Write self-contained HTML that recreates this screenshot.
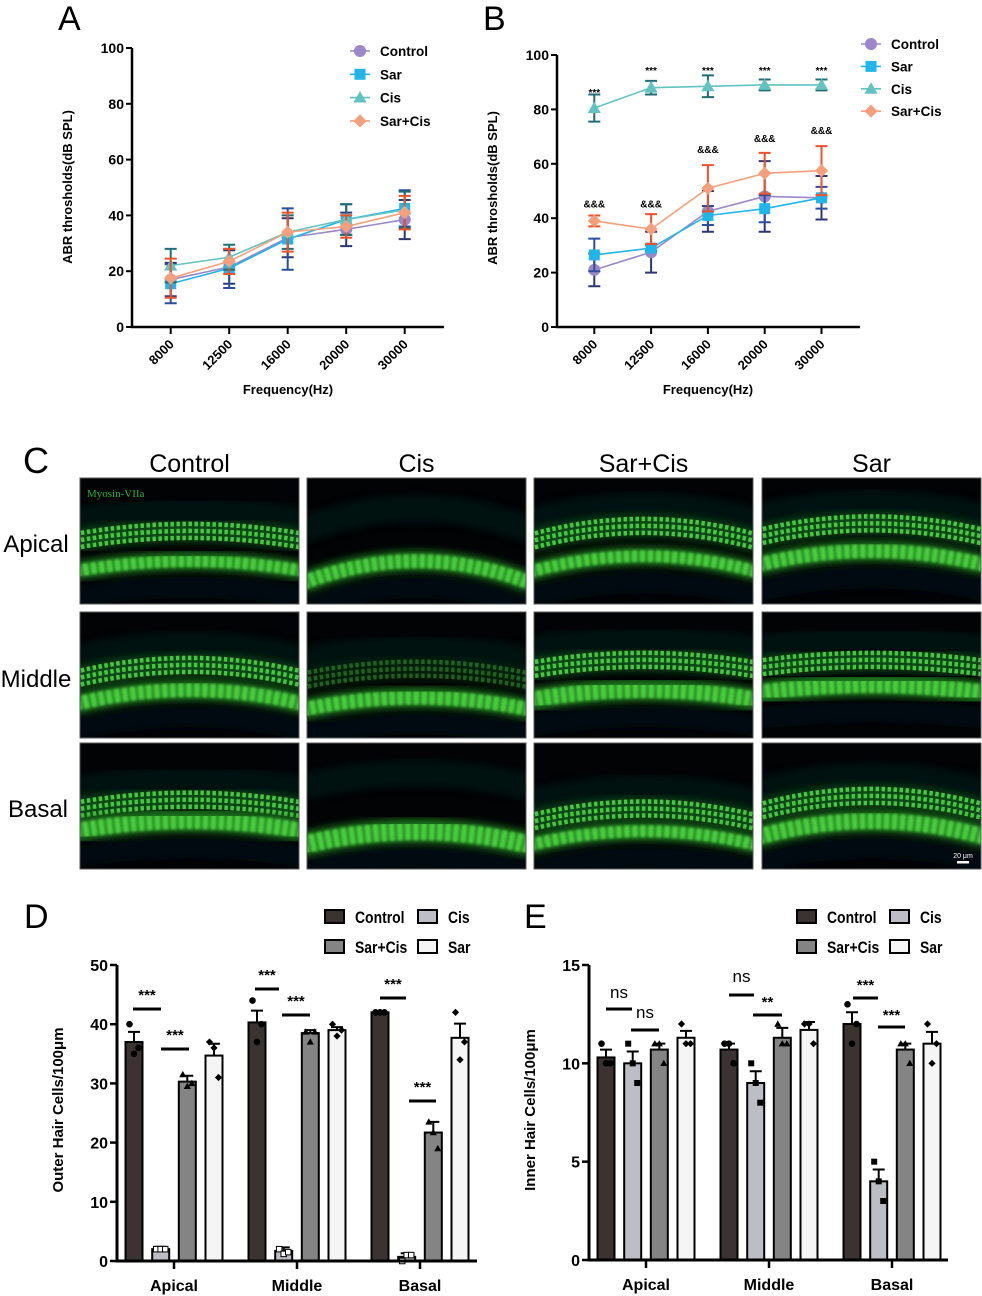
<!DOCTYPE html>
<html><head><meta charset="utf-8">
<style>
html,body{margin:0;padding:0;background:#fff;}
svg{display:block;font-family:"Liberation Sans",Arial,sans-serif;}
</style></head>
<body>
<svg id="fig" width="982" height="1296" viewBox="0 0 982 1296" xmlns="http://www.w3.org/2000/svg">
<defs>
  <filter id="glow" x="-5%" y="-50%" width="110%" height="200%"><feGaussianBlur stdDeviation="1.2"/></filter>
  <filter id="soft" x="-5%" y="-100%" width="110%" height="300%"><feGaussianBlur stdDeviation="4"/></filter>
</defs>
<text x="58" y="30" font-size="34">A</text>
<text x="483" y="30" font-size="34">B</text>
<text x="23" y="473" font-size="36">C</text>
<text x="24" y="928" font-size="34">D</text>
<text x="524" y="928" font-size="34">E</text>
<g id="gA"></g>
<g id="gB"></g>
<g id="gC"></g>
<g id="gD"></g>
<g id="gE"></g>
</svg>
<script>
// ---------- Panel A/B data ----------
const freqLabels = ["8000","12500","16000","20000","30000"];
const seriesNames = ["Control","Sar","Cis","Sar+Cis"];
const aControl = [17,21.5,32,35,38.5];
const aSar = [15.5,21,31.5,38.5,42.5];
const aCis = [22,25,34,38.5,42];
const aSarCis = [17.5,23.5,34,36,41];
const aErrControl = [6,6,7,6,7];
const aErrSar = [7,7,11,5.5,6.5];
const aErrCis = [6,4.5,6,5.5,6.5];
const aErrSarCis = [7,4.5,7,4,6];
const bControl = [21,27.5,42.5,48,47.5];
const bSar = [26.5,29,41,43.5,47.5];
const bCis = [80.5,88,88.5,89,89];
const bSarCis = [39,36,51,56.5,57.5];
const bErrControl = [6,7.5,7.5,13,8];
const bErrSar = [6,1,3.5,5,4];
const bErrCis = [5,2.5,4,2,2];
const bErrSarCis = [2,5.5,8.5,7.5,9];
const bStarLabels = ["***","***","***","***","***"];
const bStarY = [85,93,93,93,93];
const bAmpLabels = ["&&&","&&&","&&&","&&&","&&&"];
const bAmpY = [44,44,64,68,71];
const lineYTicks = [0,20,40,60,80,100];

// ---------- Panel D/E data ----------
const regions = ["Apical","Middle","Basal"];
const barGroups = ["Control","Cis","Sar+Cis","Sar"];
const dControl = [37,40.3,42];
const dCis = [2,1.7,0.7];
const dSarCis = [30.3,38.5,21.7];
const dSar = [34.7,39,37.7];
const dErrControl = [1.7,2,0.2];
const dErrCis = [0.4,0.6,0.6];
const dErrSarCis = [1,0.5,1.8];
const dErrSar = [2,0.5,2.4];
const dPtsControl = [[40,35,36],[44,37,40],[42,42,42]];
const dPtsCis = [[2,2,2],[2,1.2,1.5],[0,1,1]];
const dPtsSarCis = [[31.5,29.5,30],[38.7,37,38.7],[23.5,21.7,19]];
const dPtsSar = [[37,36,31],[40,38,39],[42,34,37]];
const dYTicks = [0,10,20,30,40,50];
const eControl = [10.3,10.7,12];
const eCis = [10,9,4];
const eSarCis = [10.7,11.3,10.7];
const eSar = [11.3,11.7,11];
const eErrControl = [0.4,0.3,0.6];
const eErrCis = [0.6,0.6,0.6];
const eErrSarCis = [0.3,0.5,0.3];
const eErrSar = [0.35,0.4,0.6];
const ePtsControl = [[11,10,10],[11,11,10],[13,11,12]];
const ePtsCis = [[11,10,9],[10,9,8],[5,4,3]];
const ePtsSarCis = [[11,11,10],[12,11,11],[11,11,10]];
const ePtsSar = [[12,11,11],[12,12,11],[12,10,11]];
const eYTicks = [0,5,10,15];

const NS = "http://www.w3.org/2000/svg";
function mk(parent, tag, attrs, text){
  const e = document.createElementNS(NS, tag);
  for (const k in attrs) e.setAttribute(k, attrs[k]);
  if (text !== undefined) e.textContent = text;
  parent.appendChild(e);
  return e;
}
function marker(g, shape, x, y, fill, s){
  let e;
  if (shape==="circle") e = mk(g,"circle",{cx:x,cy:y,r:s*0.55,fill:fill});
  else if (shape==="square") e = mk(g,"rect",{x:x-s/2,y:y-s/2,width:s,height:s,fill:fill});
  else if (shape==="triangle") e = mk(g,"polygon",{points:`${x},${y-s*0.6} ${x+s*0.6},${y+s*0.45} ${x-s*0.6},${y+s*0.45}`,fill:fill});
  else e = mk(g,"polygon",{points:`${x},${y-s*0.6} ${x+s*0.6},${y} ${x},${y+s*0.6} ${x-s*0.6},${y}`,fill:fill});
  return e;
}

const lineColors = ["#9b88c9","#22b5ea","#62c3c1","#f5a07c"];
const errColors = ["#2d3774","#2b4fa0","#1f6e73","#f0502a"];
const shapes = ["circle","square","triangle","diamond"];

function lineChart(gid, cfg, means, errs){
  const g = document.getElementById(gid);
  const y = v => cfg.yBot - (v/100)*(cfg.yBot-cfg.yTop);
  const x = i => cfg.x0 + i*cfg.step;
  const ax = mk(g,"path",{d:`M${cfg.axX},${cfg.yTop} V${cfg.yBot} H${cfg.axEnd}`,fill:"none",stroke:"#000","stroke-width":2.5});
  
  
  lineYTicks.forEach(t=>{
    mk(g,"line",{x1:cfg.axX-6,x2:cfg.axX,y1:y(t),y2:y(t),stroke:"#000","stroke-width":2});
    const tl = mk(g,"text",{x:cfg.axX-8,y:y(t)+5,"text-anchor":"end","font-size":14,"font-weight":"bold"},String(t));
    
    
  });
  freqLabels.forEach((f,i)=>{
    mk(g,"line",{x1:x(i),x2:x(i),y1:cfg.yBot,y2:cfg.yBot+7,stroke:"#000","stroke-width":2});
    const tl = mk(g,"text",{x:x(i)+4,y:cfg.yBot+18,"text-anchor":"end","font-size":13,"font-weight":"bold",transform:`rotate(-45 ${x(i)+4} ${cfg.yBot+18})`},f);
    
    
  });
  const yt = mk(g,"text",{x:cfg.ytX,y:cfg.ytY,"text-anchor":"middle","font-size":13,"font-weight":"bold",transform:`rotate(-90 ${cfg.ytX} ${cfg.ytY})`},"ABR throsholds(dB SPL)");
  
  
  const xt = mk(g,"text",{x:cfg.xtX,y:cfg.xtY,"text-anchor":"middle","font-size":13,"font-weight":"bold"},"Frequency(Hz)");
  
  
  means.forEach((m,s)=>{
    const sg = mk(g,"g",{});
    
    
    m.forEach((v,i)=>{
      const e = errs[s][i];
      mk(sg,"path",{d:`M${x(i)},${y(v-e)} V${y(v+e)} M${x(i)-6},${y(v-e)} h12 M${x(i)-6},${y(v+e)} h12`,stroke:errColors[s],"stroke-width":2,fill:"none"});
    });
    mk(sg,"polyline",{points:m.map((v,i)=>`${x(i)},${y(v)}`).join(" "),fill:"none",stroke:lineColors[s],"stroke-width":1.6});
    m.forEach((v,i)=>{
      const mm = marker(sg,shapes[s],x(i),y(v),lineColors[s],11);
      
      
    });
  });
  seriesNames.forEach((n,s)=>{
    const lg = mk(g,"g",{});
    
    
    const ly = cfg.legY + s*cfg.legStep;
    mk(lg,"line",{x1:cfg.legX-10,x2:cfg.legX+10,y1:ly,y2:ly,stroke:lineColors[s],"stroke-width":1.6});
    marker(lg,shapes[s],cfg.legX,ly,lineColors[s],11);
    mk(lg,"text",{x:cfg.legX+20,y:ly+5,"font-size":13.5,"font-weight":"bold"},n);
  });
  return {x,y,g};
}

lineChart("gA",{x0:170.7,step:58.5,yTop:48,yBot:327,axX:132,axEnd:444,ytX:72,ytY:187,xtX:288,xtY:394,legX:360,legY:51,legStep:23.3},
  [aControl,aSar,aCis,aSarCis],[aErrControl,aErrSar,aErrCis,aErrSarCis]);
const B = lineChart("gB",{x0:594.3,step:56.8,yTop:55,yBot:327,axX:557,axEnd:860,ytX:497,ytY:188,xtX:708,xtY:394,legX:871,legY:44,legStep:22.4},
  [bControl,bSar,bCis,bSarCis],[bErrControl,bErrSar,bErrCis,bErrSarCis]);
bStarLabels.forEach((t,i)=>{
  const e = mk(B.g,"text",{x:B.x(i),y:B.y(bStarY[i]),"text-anchor":"middle","font-size":10,"font-weight":"bold"},t);
  
  
});
bAmpLabels.forEach((t,i)=>{
  const e = mk(B.g,"text",{x:B.x(i),y:B.y(bAmpY[i]),"text-anchor":"middle","font-size":10,"font-weight":"bold"},t);
  
  
});

// ---------- Panel C micrographs ----------
const gC = document.getElementById("gC");
const colNames = ["Control","Cis","Sar+Cis","Sar"];
const colX = [80,307,534,762];
const colW = 219;
const rowNames = ["Apical","Middle","Basal"];
const rowY = [478,612,743];
const rowH = 126;
colNames.forEach((c,i)=>{
  const t = mk(gC,"text",{x:colX[i]+colW/2,y:472,"text-anchor":"middle","font-size":25},c);
  
  
});
[[36,552],[36,687],[38,817]].forEach((p,r)=>{
  const t = mk(gC,"text",{x:p[0],y:p[1],"text-anchor":"middle","font-size":24},rowNames[r]);
  
  
});
const panelStyle = [
  [[1,0.42,0.66,10,12],[1,0.42,0.62,14,14],[1,0.45,0.62,10,16]],
  [[0,0.4,0.66,22,14],[0.4,0.45,0.68,12,14],[0,0.4,0.70,14,18]],
  [[1,0.38,0.62,16,12],[1,0.38,0.62,10,16],[1,0.52,0.70,14,12]],
  [[1,0.36,0.58,14,14],[1,0.38,0.58,8,16],[1,0.42,0.62,16,16]]
];
colX.forEach((cx,i)=>{
  rowY.forEach((ry,r)=>{
    const p = mk(gC,"g",{});
    
    
    const cid = `clip${i}${r}`;
    const cp = mk(p,"clipPath",{id:cid});
    mk(cp,"rect",{x:cx,y:ry,width:colW,height:rowH});
    mk(p,"rect",{x:cx,y:ry,width:colW,height:rowH,fill:"#010304"});
    const inner = mk(p,"g",{"clip-path":`url(#${cid})`});
    const st = panelStyle[i][r];
    const curve = (yf,dy)=>{
      const y0 = ry + rowH*yf + dy;
      return `M${cx-5},${y0+st[3]} Q${cx+colW/2},${y0-st[3]} ${cx+colW+5},${y0+st[3]}`;
    };
    mk(inner,"path",{d:curve(st[1],-20),stroke:"#06201a","stroke-width":26,fill:"none",filter:"url(#soft)",opacity:0.5});
    mk(inner,"path",{d:curve(st[2],26),stroke:"#041014","stroke-width":22,fill:"none",filter:"url(#soft)",opacity:0.7});
    if (st[0]>0){
      mk(inner,"path",{d:curve(st[1],0),stroke:"#0f4a18","stroke-width":22,fill:"none",filter:"url(#soft)",opacity:st[0]});
      [-7,0,7].forEach(d=>{
        mk(inner,"path",{d:curve(st[1],d),stroke:"#45c840","stroke-width":4.5,"stroke-dasharray":"3.5 2.5",fill:"none",opacity:st[0]});
      });
    }
    mk(inner,"path",{d:curve(st[2],0),stroke:"#1f7a1e","stroke-width":st[4]+6,fill:"none",filter:"url(#soft)"});
    mk(inner,"path",{d:curve(st[2],0),stroke:"#4ccc40","stroke-width":st[4],"stroke-dasharray":"6 2",fill:"none",filter:"url(#glow)"});
    mk(p,"rect",{x:cx,y:ry,width:colW,height:rowH,fill:"none",stroke:"#5a5a5a","stroke-width":1});
  });
});
const myo = mk(gC,"text",{x:87,y:497,"font-size":11,fill:"#2bb53a","font-family":"Liberation Serif, serif"},"Myosin-VIIa");


const sb = mk(gC,"text",{x:963,y:858,"text-anchor":"middle","font-size":7,fill:"#fff"},"20 μm");


const sbl = mk(gC,"rect",{x:957,y:861,width:12,height:2.5,fill:"#fff"});



// ---------- Bar charts ----------
const barFills = ["#3a3331","#bdbdc5","#848484","#f5f5f5"];
const ptShapes = ["circle","square","triangle","diamond"];
function barChart(gid, cfg, vals, errs, pts, ticks, ymax, sig){
  const g = document.getElementById(gid);
  const y = v => cfg.yBot - (v/ymax)*(cfg.yBot-cfg.yTop);
  const gx = k => cfg.g0 + k*cfg.gStep;
  const offs = [-40,-13.3,13.3,40];
  const bw = 17;
  regions.forEach((rg,k)=>{
    vals.forEach((arr,s)=>{
      const bx = gx(k)+offs[s];
      const v = arr[k];
      const bar = mk(g,"rect",{x:bx-bw/2,y:y(v),width:bw,height:cfg.yBot-y(v),fill:barFills[s],stroke:"#000","stroke-width":2});
      
      
      const e = errs[s][k];
      mk(g,"path",{d:`M${bx},${y(v)} V${y(v+e)} M${bx-6},${y(v+e)} h12`,stroke:"#000","stroke-width":2,fill:"none"});
      pts[s][k].forEach((pv,j)=>{
        const pm = marker(g,ptShapes[s],bx+(j-1)*4.5,y(pv),s===1&&cfg.whiteSq?"#fff":"#000",s===1&&cfg.whiteSq?5.5:6);
        if (s===1&&cfg.whiteSq) pm.setAttribute("stroke","#000");
        
        
      });
    });
    mk(g,"line",{x1:gx(k),x2:gx(k),y1:cfg.yBot,y2:cfg.yBot+8,stroke:"#000","stroke-width":2.5});
    const cl = mk(g,"text",{x:gx(k),y:cfg.yBot+30,"text-anchor":"middle","font-size":16,"font-weight":"bold"},rg);
    
    
  });
  const ax = mk(g,"path",{d:`M${cfg.axX},${cfg.yTop} V${cfg.yBot} H${cfg.axEnd}`,fill:"none",stroke:"#000","stroke-width":3});
  
  
  ticks.forEach(t=>{
    mk(g,"line",{x1:cfg.axX-7,x2:cfg.axX,y1:y(t),y2:y(t),stroke:"#000","stroke-width":2.5});
    const tl = mk(g,"text",{x:cfg.axX-9,y:y(t)+6,"text-anchor":"end","font-size":16,"font-weight":"bold"},String(t));
    
    
  });
  const yt = mk(g,"text",{x:cfg.ytX,y:cfg.ytY,"text-anchor":"middle","font-size":15,"font-weight":"bold",transform:`rotate(-90 ${cfg.ytX} ${cfg.ytY})`},cfg.title);
  
  
  sig.forEach(sg=>{
    const sgG = mk(g,"g",{});
    
    
    mk(sgG,"line",{x1:sg[0],x2:sg[1],y1:sg[2],y2:sg[2],stroke:"#000","stroke-width":3});
    mk(sgG,"text",{x:(sg[0]+sg[1])/2,y:sg[3],"text-anchor":"middle","font-size":sg[4]==="ns"?17:15,"font-weight":sg[4]==="ns"?"normal":"bold"},sg[4]);
  });
  const lp = [[cfg.lx1,cfg.ly1,0],[cfg.lx2,cfg.ly1,1],[cfg.lx1,cfg.ly1+30,2],[cfg.lx2,cfg.ly1+30,3]];
  lp.forEach(p=>{
    const lg = mk(g,"g",{});
    
    
    mk(lg,"rect",{x:p[0],y:p[1]-7,width:19,height:13,fill:barFills[p[2]],stroke:"#000","stroke-width":2});
    const tx = p[0]+30;
    mk(lg,"text",{x:0,y:0,"font-size":17,"font-weight":"bold","transform":`translate(${tx} ${p[1]+6}) scale(0.82 1)`},barGroups[p[2]]);
  });
}
barChart("gD",{g0:174,gStep:123,yTop:965,yBot:1261,axX:117,axEnd:477,ytX:63,ytY:1110,title:"Outer Hair Cells/100μm",lx1:325,lx2:418,ly1:917,whiteSq:true},
  [dControl,dCis,dSarCis,dSar],[dErrControl,dErrCis,dErrSarCis,dErrSar],[dPtsControl,dPtsCis,dPtsSarCis,dPtsSar],dYTicks,50,
  [[133,161,1009,1000,"***"],[161,189,1049,1040,"***"],[255,279,989,980,"***"],[282,310,1015,1006,"***"],[380,406,998,989,"***"],[409,436,1101,1092,"***"]]);
barChart("gE",{g0:646,gStep:123,yTop:965,yBot:1260,axX:589,axEnd:948,ytX:535,ytY:1110,title:"Inner Hair Cells/100μm",lx1:797,lx2:890,ly1:917,whiteSq:false},
  [eControl,eCis,eSarCis,eSar],[eErrControl,eErrCis,eErrSarCis,eErrSar],[ePtsControl,ePtsCis,ePtsSarCis,ePtsSar],eYTicks,15,
  [[606,632,1009,998,"ns"],[631,659,1030,1018,"ns"],[729,754,995,982,"ns"],[753,782,1015,1007,"**"],[853,878,998,990,"***"],[878,905,1027,1020,"***"]]);
</script>
</body></html>
